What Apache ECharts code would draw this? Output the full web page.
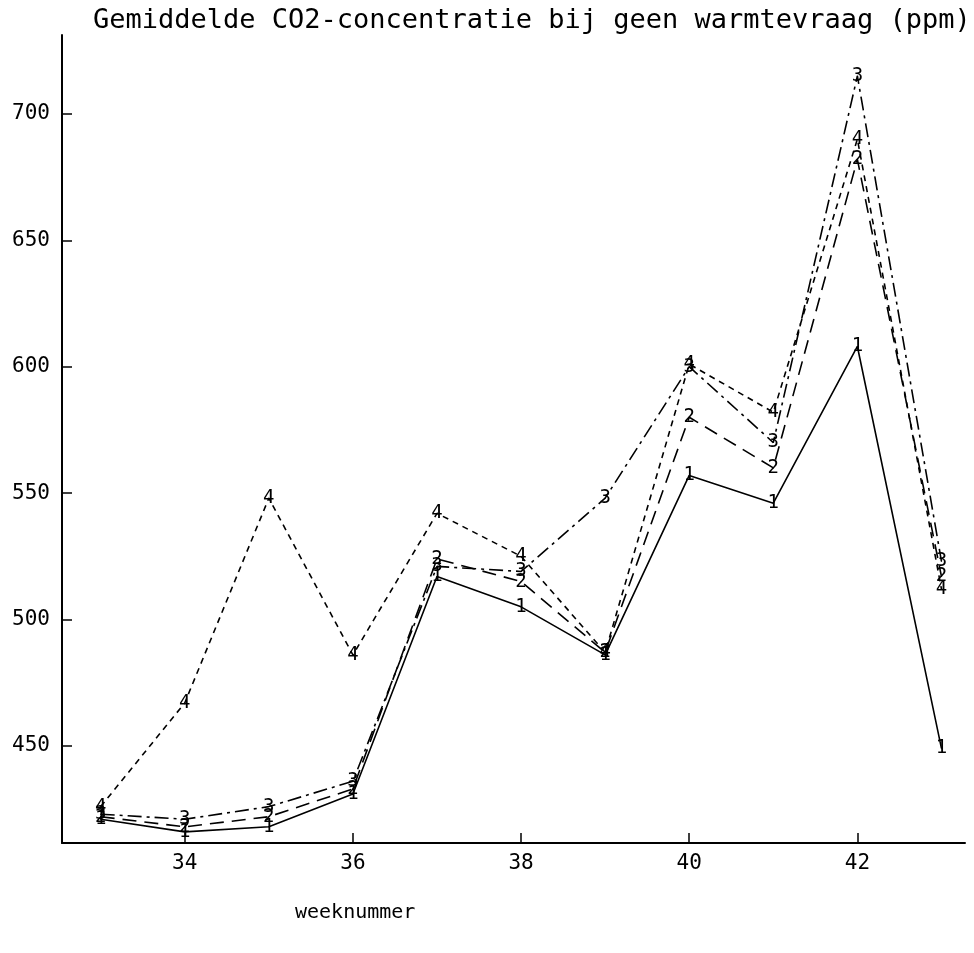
<!DOCTYPE html>
<html>
<head>
<meta charset="utf-8">
<title>Gemiddelde CO2-concentratie</title>
<script src="https://cdn.jsdelivr.net/npm/echarts@6/dist/echarts.min.js"></script>
<style>
  html, body { margin: 0; padding: 0; background: #fff; }
  #chart { width: 974px; height: 953px; }
</style>
</head>
<body>
<div id="chart"></div>
<script>
// weeknummers en gemiddelde CO2 (ppm) per reeks
const weeks = [33, 34, 35, 36, 37, 38, 39, 40, 41, 42, 43];
const serie1 = [421, 416, 418, 431, 517, 505, 486, 557, 546, 608, 449];
const serie2 = [422, 418, 422, 433, 524, 515, 487, 580, 560, 682, 517];
const serie3 = [423, 421, 426, 436, 521, 519, 548, 600, 570, 715, 523];
const serie4 = [426, 467, 548, 486, 542, 525, 487, 601, 582, 690, 512];

const xTicks = [34, 36, 38, 40, 42];
const yTicks = [450, 500, 550, 600, 650, 700];

const seriesNames = ['1', '2', '3', '4'];
const seriesValues = [serie1, serie2, serie3, serie4];
const dashes = ['solid', [14, 8], [14, 5, 3, 5], [6, 5]];

const MONO = '"DejaVu Sans Mono", "Liberation Mono", monospace';

const chart = echarts.init(document.getElementById('chart'));

const series = seriesValues.map((vals, i) => ({
    name: seriesNames[i],
    type: 'line',
    data: weeks.map((w, j) => [w, vals[j]]),
    symbol: 'circle',
    symbolSize: 1,
    itemStyle: { color: '#000' },
    lineStyle: { color: '#000', width: 1.6, type: dashes[i] },
    label: {
        show: true,
        position: 'inside',
        formatter: seriesNames[i],
        color: '#000',
        fontFamily: MONO,
        fontSize: 19
    },
    emphasis: { disabled: true },
    z: 10 - i
}));

chart.setOption({
    animation: false,
    backgroundColor: '#fff',
    title: [
        {
            text: 'Gemiddelde CO2-concentratie bij geen warmtevraag (ppm)',
            left: 88,
            top: 2,
            textStyle: { fontFamily: MONO, fontSize: 27, fontWeight: 'normal', color: '#000' }
        },
        {
            text: 'weeknummer',
            left: 290,
            top: 898,
            textStyle: { fontFamily: MONO, fontSize: 20, fontWeight: 'normal', color: '#000' }
        }
    ],
    grid: { left: 62, right: 9, top: 35, bottom: 110 },
    xAxis: {
        type: 'value',
        min: 32.54,
        max: 43.28,
        axisLine: { show: true, lineStyle: { color: '#000', width: 2 } },
        axisTick: { show: true, inside: true, length: 10, customValues: xTicks, lineStyle: { color: '#000', width: 1.5 } },
        axisLabel: { customValues: xTicks, color: '#000', fontFamily: MONO, fontSize: 21, margin: 10 },
        splitLine: { show: false }
    },
    yAxis: {
        type: 'value',
        min: 411.6,
        max: 731.2,
        axisLine: { show: true, lineStyle: { color: '#000', width: 2 } },
        axisTick: { show: true, inside: true, length: 10, customValues: yTicks, lineStyle: { color: '#000', width: 1.5 } },
        axisLabel: { customValues: yTicks, color: '#000', fontFamily: MONO, fontSize: 21, margin: 12 },
        splitLine: { show: false }
    },
    series: series
});
</script>
</body>
</html>
